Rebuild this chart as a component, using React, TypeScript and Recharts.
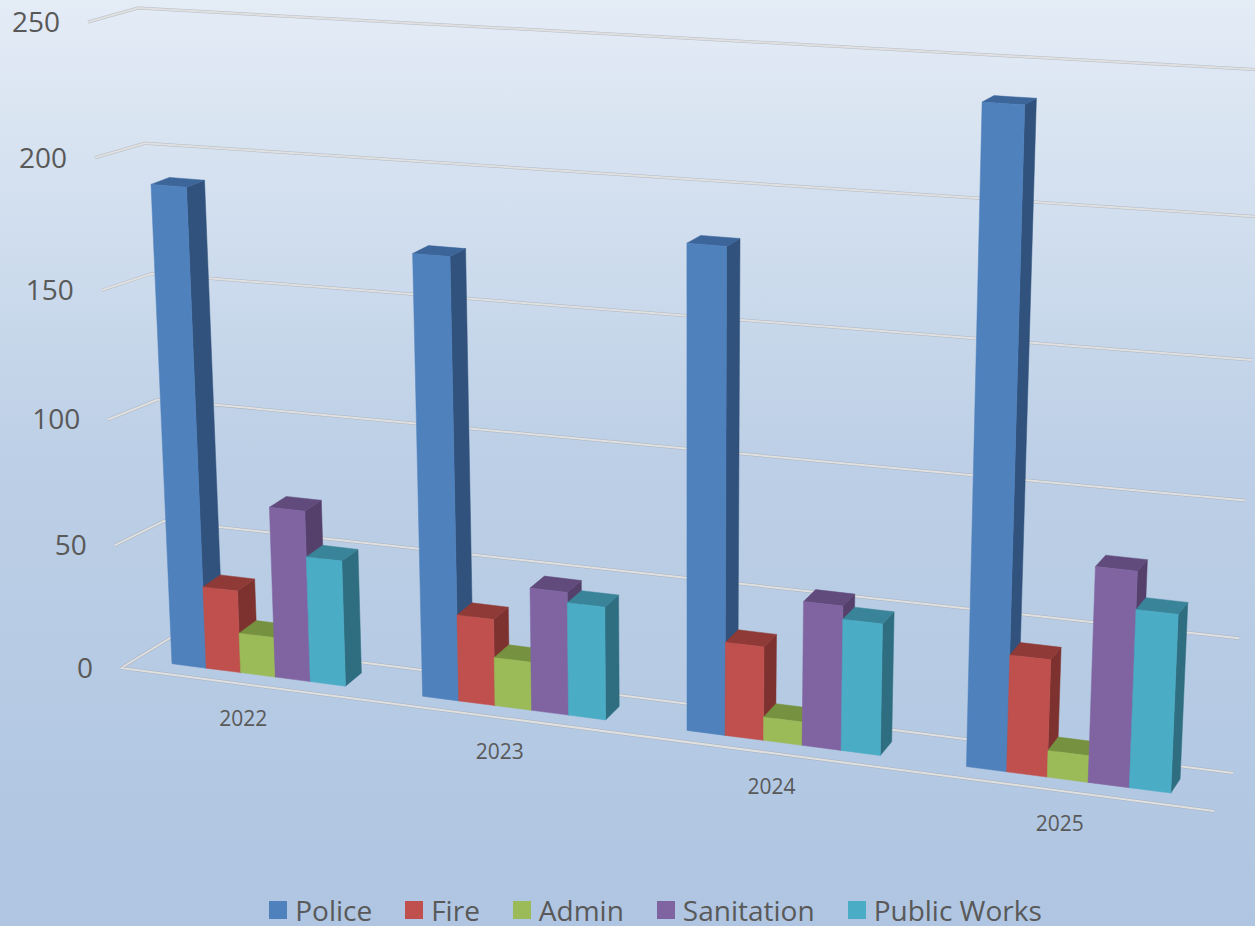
import React from 'react';
import { BarChart, Bar, XAxis, YAxis, CartesianGrid, Legend } from 'recharts';

const years = ['2022', '2023', '2024', '2025'];
const police = [189, 171, 183, 240];
const fire = [33, 34, 36, 44];
const admin = [16, 19, 9, 10];
const sanitation = [68, 48, 55, 80];
const publicWorks = [50, 44, 50, 66];
const yTicks = [0, 50, 100, 150, 200, 250];

const data = years.map((year, i) => ({
  year,
  Police: police[i],
  Fire: fire[i],
  Admin: admin[i],
  Sanitation: sanitation[i],
  'Public Works': publicWorks[i],
}));

const series = [
  { name: 'Police', front: '#4f81bd', side: '#31527c', top: '#3c659a' },
  { name: 'Fire', front: '#c0504d', side: '#7d322f', top: '#8f3a37' },
  { name: 'Admin', front: '#9bbb59', side: '#657a3a', top: '#76913f' },
  { name: 'Sanitation', front: '#8064a2', side: '#54406b', top: '#614b7c' },
  { name: 'Public Works', front: '#4bacc6', side: '#2f6e80', top: '#3a8499' },
];

const WIDTH = 1255;
const HEIGHT = 926;
// flat plot rectangle that recharts lays out, before the 3D projection
const PLOT = { x: 60, y: 20, w: 1175, h: 866 };

type Pt = [number, number];

// unit square -> quad (tl, tr, br, bl)
const quadMap = (q: Pt[]) => {
  const [[x0, y0], [x1, y1], [x2, y2], [x3, y3]] = q;
  const dx1 = x1 - x2, dx2 = x3 - x2, sx = x0 - x1 + x2 - x3;
  const dy1 = y1 - y2, dy2 = y3 - y2, sy = y0 - y1 + y2 - y3;
  const den = dx1 * dy2 - dx2 * dy1;
  const g = (sx * dy2 - dx2 * sy) / den;
  const h = (dx1 * sy - sx * dy1) / den;
  const a = x1 - x0 + g * x1, b = x3 - x0 + h * x3;
  const d = y1 - y0 + g * y1, e = y3 - y0 + h * y3;
  return (u: number, v: number): Pt => {
    const w = g * u + h * v + 1;
    return [(a * u + b * v + x0) / w, (d * u + e * v + y0) / w];
  };
};

const barFront = quadMap([[105.5, 19], [1248.5, 89], [1216.5, 799], [135.5, 659]]);
const barBack = quadMap([[124.5, 14], [1259, 82.5], [1225.5, 785], [153.5, 646]]);
const backWall = quadMap([[138, 8], [1265, 70], [1233, 773], [170, 638]]);
const sideWall = quadMap([[88, 22], [138, 8], [170, 638], [121, 668]]);
const floorFront: Pt[] = [[121, 668], [1214, 811]];

const nx = (x: number) => (x - PLOT.x) / PLOT.w;
const ny = (y: number) => (y - PLOT.y) / PLOT.h;
// the gridlines bunch up a little towards the floor, more than a plain quad gives
const warp = (v: number, k: number) => v + k * v * (1 - v);
const pts = (list: Pt[]) => list.map((p) => `${p[0].toFixed(1)},${p[1].toFixed(1)}`).join(' ');

const bar3D = (colors: (typeof series)[number]) => (props: any) => {
  const { x, y, width, height } = props;
  const l = nx(x), r = nx(x + width), t = ny(y), b = ny(y + height);
  const fl = barFront(l, t), fr = barFront(r, t), frb = barFront(r, b), flb = barFront(l, b);
  const bl = barBack(l, t), br = barBack(r, t), brb = barBack(r, b);
  return (
    <g>
      <polygon points={pts([fr, br, brb, frb])} fill={colors.side} stroke={colors.side} strokeWidth={0.5} />
      <polygon points={pts([fl, bl, br, fr])} fill={colors.top} stroke={colors.top} strokeWidth={0.5} />
      <polygon points={pts([fl, fr, frb, flb])} fill={colors.front} stroke={colors.front} strokeWidth={0.5} />
    </g>
  );
};

const gridLine = (props: any) => {
  const v = ny(props.y1);
  const line = pts([sideWall(0, warp(v, 0.06)), backWall(0, warp(v, 0.035)), backWall(1, warp(v, -0.01))]);
  const isFloor = Math.abs(v - 1) < 0.001;
  return (
    <g key={props.key ?? props.y1} fill="none" strokeLinejoin="round">
      <polyline points={line} stroke="#a3a8b0" strokeWidth={3} strokeOpacity={0.7} />
      <polyline points={line} stroke="#e0e0e0" strokeWidth={2} />
      {isFloor && (
        <>
          <polyline points={pts(floorFront)} stroke="#a3a8b0" strokeWidth={3} strokeOpacity={0.7} />
          <polyline points={pts(floorFront)} stroke="#e0e0e0" strokeWidth={2} />
        </>
      )}
    </g>
  );
};

const yTick = (props: any) => {
  const [px, py] = sideWall(0, warp(ny(props.y), 0.06));
  return (
    <text key={props.payload.value} x={px - 28} y={py + 10} textAnchor="end" fontSize={28} fill="#595959">
      {props.payload.value}
    </text>
  );
};

const xTick = (props: any) => {
  const u = nx(props.x);
  const [px, py] = barFront(u, 1);
  return (
    <text key={props.payload.value} x={px - 15 + 9 * u * u} y={py + 51} textAnchor="middle" fontSize={21} fill="#595959">
      {props.payload.value}
    </text>
  );
};

const legendContent = () => (
  <div style={{ display: 'flex', justifyContent: 'center', gap: 33, color: '#595959', fontSize: 28, lineHeight: '30px' }}>
    {series.map((s) => (
      <div key={s.name} style={{ display: 'flex', alignItems: 'center', gap: 8 }}>
        <span style={{ width: 18, height: 18, background: s.front, display: 'inline-block' }} />
        {s.name}
      </div>
    ))}
  </div>
);

export default function App() {
  return (
    <div
      style={{
        position: 'absolute',
        left: 0,
        top: 0,
        width: WIDTH,
        height: HEIGHT,
        overflow: 'hidden',
        fontFamily: '"Open Sans", sans-serif',
        background: 'linear-gradient(180deg, #e4ecf6 0%, #bccfe6 50%, #afc5e1 100%)',
      }}
    >
      <BarChart
        width={WIDTH}
        height={HEIGHT}
        data={data}
        margin={{ top: 20, right: 20, bottom: 0, left: 0 }}
        barCategoryGap="15%"
        barGap={0}
      >
        <CartesianGrid horizontal={gridLine} vertical={false} />
        <XAxis dataKey="year" height={40} axisLine={false} tickLine={false} interval={0} tick={xTick} />
        <YAxis width={60} domain={[0, 250]} ticks={yTicks} axisLine={false} tickLine={false} tick={yTick} />
        <Legend
          verticalAlign="middle"
          align="center"
          content={legendContent}
          wrapperStyle={{ top: 895, left: 28, width: WIDTH, height: 30 }}
        />
        {series.map((s) => (
          <Bar key={s.name} dataKey={s.name} fill={s.front} shape={bar3D(s)} isAnimationActive={false} />
        ))}
      </BarChart>
    </div>
  );
}
